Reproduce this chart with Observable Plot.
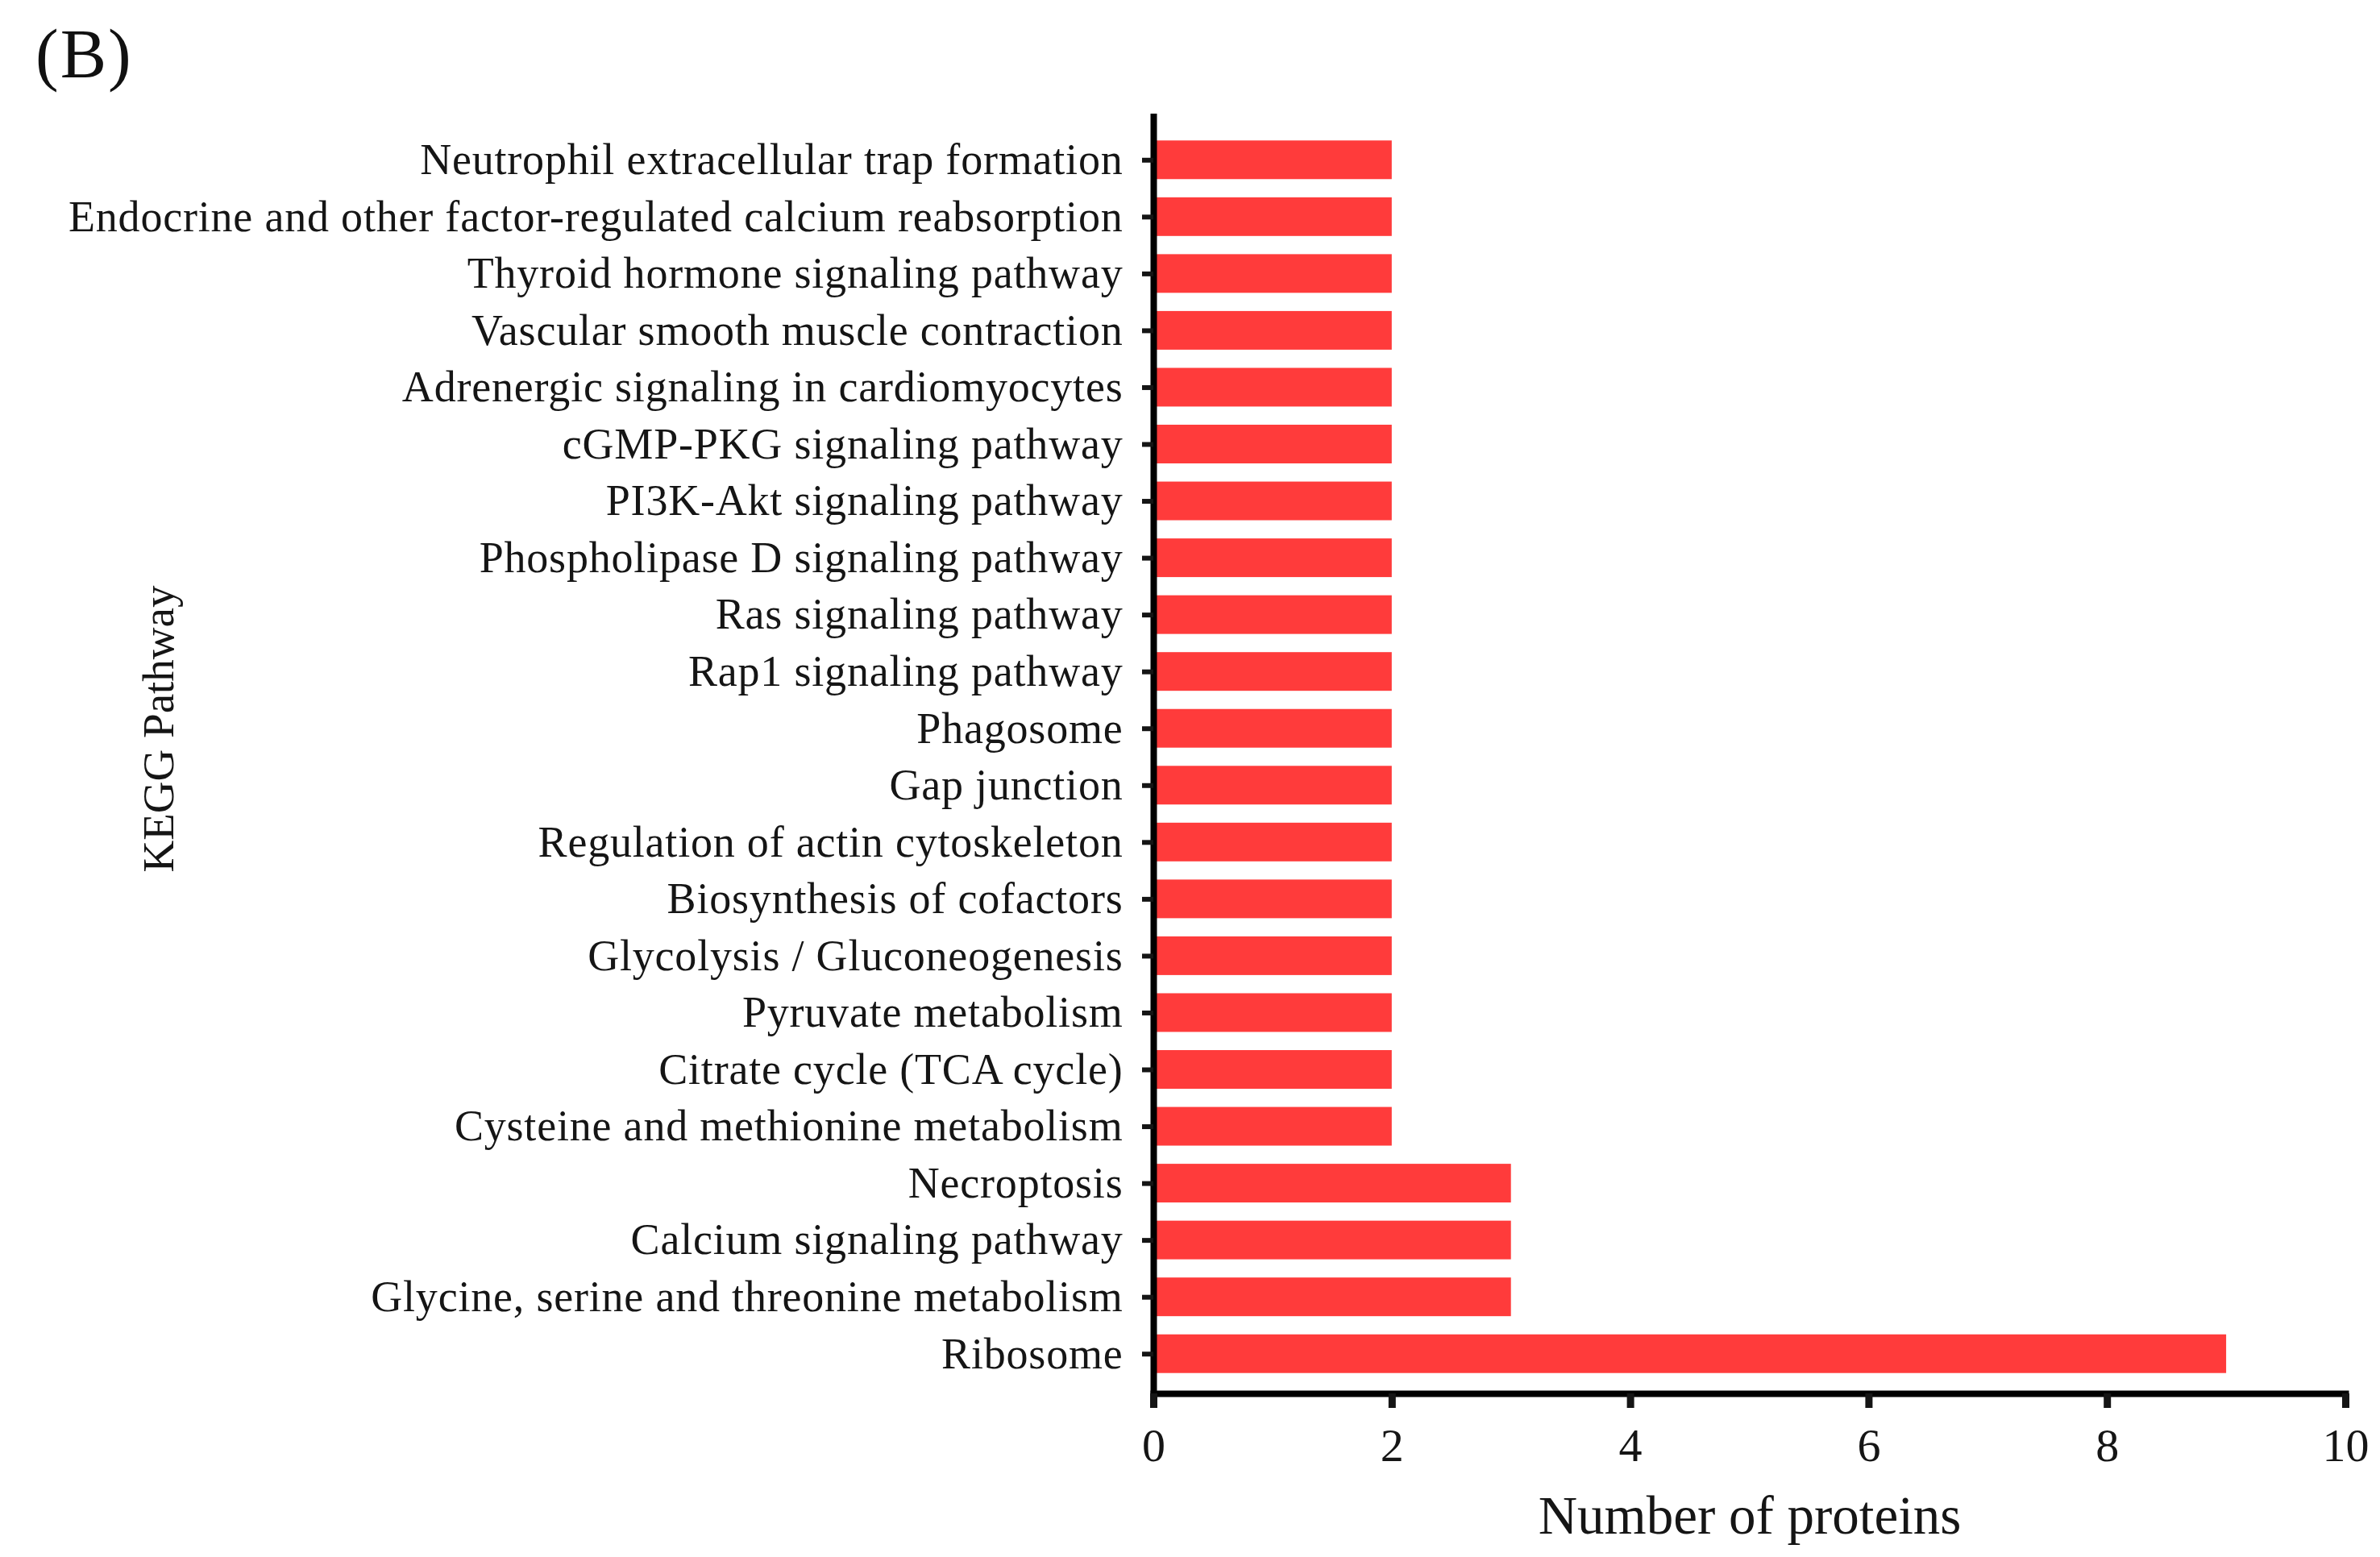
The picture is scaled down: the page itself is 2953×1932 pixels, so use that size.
<!DOCTYPE html>
<html><head><meta charset="utf-8">
<script src="https://cdn.jsdelivr.net/npm/d3@7"></script>
<script src="https://cdn.jsdelivr.net/npm/@observablehq/plot@0.6"></script>
<style>
body{margin:0;background:#fff;}
#wrap{position:relative;width:2953px;height:1932px;overflow:hidden;}
#panel{position:absolute;left:44px;top:16px;font-family:"Liberation Serif",serif;font-size:86px;color:#111;line-height:1.2;letter-spacing:2px;}
#chart{position:absolute;left:0;top:0;}
</style></head><body>
<div id="wrap"><div id="chart"></div><div id="panel">(B)</div></div>
<script>
const pathways = [
  "Neutrophil extracellular trap formation",
  "Endocrine and other factor-regulated calcium reabsorption",
  "Thyroid hormone signaling pathway",
  "Vascular smooth muscle contraction",
  "Adrenergic signaling in cardiomyocytes",
  "cGMP-PKG signaling pathway",
  "PI3K-Akt signaling pathway",
  "Phospholipase D signaling pathway",
  "Ras signaling pathway",
  "Rap1 signaling pathway",
  "Phagosome",
  "Gap junction",
  "Regulation of actin cytoskeleton",
  "Biosynthesis of cofactors",
  "Glycolysis / Gluconeogenesis",
  "Pyruvate metabolism",
  "Citrate cycle (TCA cycle)",
  "Cysteine and methionine metabolism",
  "Necroptosis",
  "Calcium signaling pathway",
  "Glycine, serine and threonine metabolism",
  "Ribosome"
];
const counts = [2,2,2,2,2,2,2,2,2,2,2,2,2,2,2,2,2,2,3,3,3,9];
const xTicks = [0,2,4,6,8,10];
const xLabel = "Number of proteins";
const yLabel = "KEGG Pathway";

const data = pathways.map((p,i)=>({pathway:p,count:counts[i]}));
const chart = Plot.plot({
  width:2953, height:1932,
  marginLeft:1431, marginRight:43, marginTop:141, marginBottom:203,
  style:{fontFamily:"'Liberation Serif', serif", fontSize:"54px", color:"#151515", background:"#fff"},
  x:{domain:[0,10]},
  y:{domain:pathways, paddingInner:0.32, paddingOuter:0.16, insetTop:22, insetBottom:14, round:false},
  marks:[
    Plot.barX(data,{x:"count", y:"pathway", fill:"#ff3b3b"}),
    Plot.frame({anchor:"bottom", strokeWidth:8, stroke:"#000"}),
    Plot.ruleX([0],{strokeWidth:8, stroke:"#000"}),
    Plot.axisY({tickSize:14, tickPadding:24, strokeWidth:6, fontSize:54, label:null}),
    Plot.axisX({ticks:xTicks, tickSize:18, tickPadding:24, strokeWidth:9, fontSize:58, label:null}),
    Plot.text([xLabel], {frameAnchor:"bottom", dy:152, fontSize:67, lineAnchor:"middle"}),
    Plot.text([yLabel], {frameAnchor:"left", textAnchor:"middle", rotate:-90, dx:-1234, dy:-31, fontSize:55, lineAnchor:"middle"})
  ]
});
d3.select(chart).selectAll('[aria-label="y-axis tick label"] text').style("letter-spacing","0.8px");
document.getElementById("chart").append(chart);
</script>
</body></html>
